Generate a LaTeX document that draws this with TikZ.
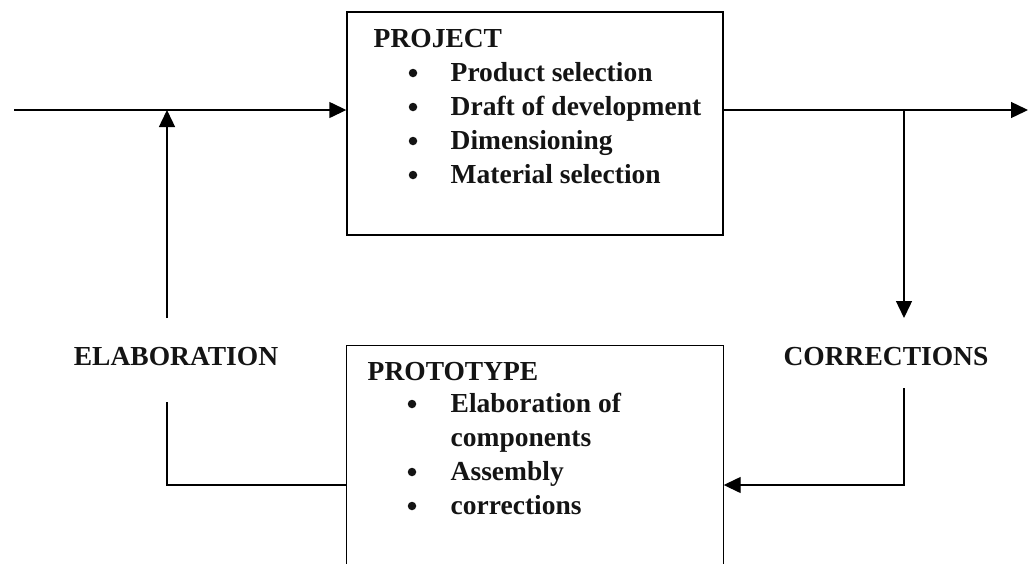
\documentclass[tikz,border=0pt]{standalone}
\usepackage{fontspec}
\setmainfont{Liberation Serif}
\usetikzlibrary{arrows.meta}
\begin{document}
\begin{tikzpicture}[x=1pt,y=-1pt,
  line width=1.4pt,
  txt/.style={font=\bfseries\fontsize{27.5}{34}\selectfont, inner sep=0pt, anchor=base west, text=black!92},
  bul/.style={circle, fill=black!92, inner sep=0pt, minimum size=8.5pt},
  box/.style={rectangle, inner sep=0pt, minimum width=376pt},
  lbl/.style={font=\bfseries\fontsize{27.5}{34}\selectfont, inner sep=0pt, text=black!92},
  arr/.style={-{Triangle[length=17pt,width=16pt]}}
]
\useasboundingbox (0,0) rectangle (1028,563);
\clip (0,0) rectangle (1028,563);
% boxes
\node[box, draw, minimum height=223pt] (proj) at (535,123.5) {};
\node[box, minimum height=254pt] (proto) at (535,473) {};
\draw (proto.south west) |- (proto.north east) -- (proto.south east);
% project texts
\node[txt] (pt) at (373,47) {PROJECT};
\node[bul] (pb1) at (413,73) {};  \node[txt] (p1) at (450,81) {Product selection};
\node[bul] (pb2) at (413,107) {}; \node[txt] (p2) at (450,115) {Draft of development};
\node[bul] (pb3) at (413,141) {}; \node[txt] (p3) at (450,149) {Dimensioning};
\node[bul] (pb4) at (413,175) {}; \node[txt] (p4) at (450,183) {Material selection};
% prototype texts
\node[txt] (qt) at (367,380) {PROTOTYPE};
\node[bul] (qb1) at (412,404) {}; \node[txt] (q1) at (450,412) {Elaboration of};
\node[txt] (q1b) at (450,446) {components};
\node[bul] (qb2) at (412,472) {}; \node[txt] (q2) at (450,480) {Assembly};
\node[bul] (qb3) at (412,506) {}; \node[txt] (q3) at (450,514) {corrections};
% labels
\node[lbl] (elab) at (176,357) {ELABORATION};
\node[lbl] (corr) at (886,357) {CORRECTIONS};
% coordinates
\coordinate (in) at (14,110);
\coordinate (out) at (1028,110);
\coordinate (br) at (904,110);
\coordinate (ctop) at (904,318);
\coordinate (cbot) at (904,388);
\coordinate (etop) at (167,318);
\coordinate (ebot) at (167,402);
\coordinate (low) at (0,485);
% connectors
\draw[arr] (in) -- (in -| proj.west);
\draw[arr] (proj.east |- out) -- (out);
\draw[arr] (br) -- (ctop);
\draw[arr] (cbot) |- (proto.east |- low);
\draw (proto.west |- low) -| (ebot);
\draw[arr] (etop) -- (etop |- in);
\end{tikzpicture}
\end{document}
